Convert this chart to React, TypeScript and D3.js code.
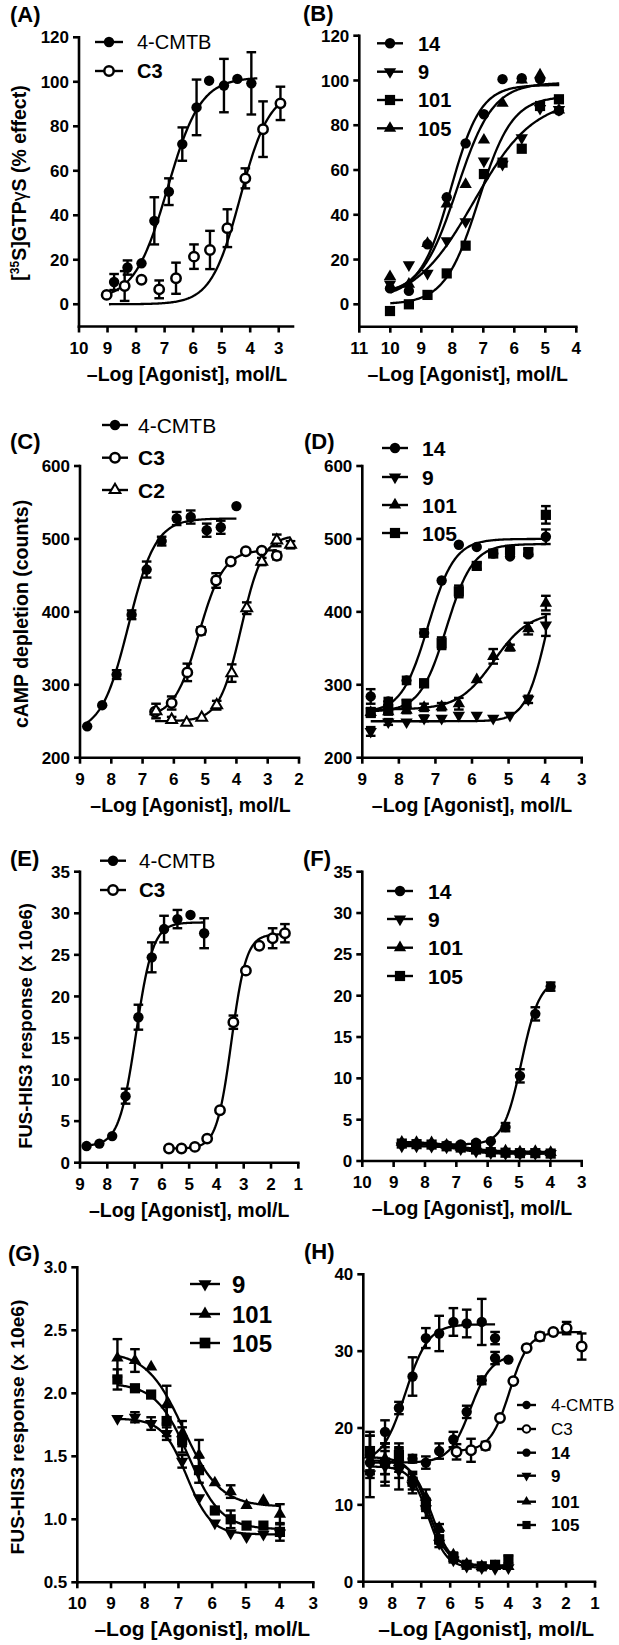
import React from 'react';
import * as d3 from 'd3';

const FONT = '"Liberation Sans", Arial, Helvetica, sans-serif';
const X_TITLE = '\u2013Log [Agonist], mol/L';

// ---------------- Panel A : [35S]GTPgS ----------------
const aX_CMTB = [8.77, 8.30, 7.81, 7.36, 6.85, 6.38, 5.88, 5.44, 4.92, 4.45, 3.96];
const aY_CMTB = [10.0, 16.5, 18.4, 37.5, 50.6, 72.0, 88.5, 100.5, 98.3, 101.3, 99.3];
const aE_CMTB = [3.6, 3.2, 0, 10.6, 6.0, 7.5, 12.5, 0, 12.0, 0, 14.0];
const aFit_CMTB = [2, 102, 6.9, 0.75, 8.9, 3.75];
const aX_C3 = [9.03, 8.40, 7.81, 7.19, 6.60, 5.97, 5.41, 4.80, 4.17, 3.55, 2.94];
const aY_C3 = [4.2, 8.2, 11.0, 6.7, 11.7, 21.4, 24.4, 34.2, 56.6, 78.7, 90.3];
const aE_C3 = [0, 6.7, 0, 4.0, 7.0, 5.5, 8.6, 8.5, 4.5, 12.5, 7.5];
const aFit_C3 = [0, 96, 4.35, 0.85, 8.95, 2.94];

// ---------------- Panel B ----------------
const bX = [10.01, 9.40, 8.80, 8.18, 7.57, 6.98, 6.38, 5.76, 5.17, 4.56];
const bY_14 = [7.1, 6.0, 26.8, 47.8, 71.9, 84.9, 100.6, 101.0, 100.6, 86.5];
const bY_9 = [9.0, 17.6, 13.8, 28.4, 36.9, 64.0, 62.5, 74.4, 87.5, 87.0];
const bY_101 = [-3.0, 0.0, 4.2, 13.8, 26.2, 58.2, 63.3, 69.5, 88.6, 91.6];
const bY_105 = [12.4, 9.0, 27.2, 44.8, 53.6, 73.4, 89.8, 100.2, 102.5, 86.8];
const bFit_14 = [5, 98, 8.05, 0.9, 10.0, 4.55];
const bFit_9 = [0, 92, 7.3, 0.45, 10.0, 4.55];
const bFit_101 = [0, 93, 7.15, 0.8, 10.0, 4.55];
const bFit_105 = [4, 99, 7.85, 0.75, 10.0, 4.55];

// ---------------- Panel C : cAMP ----------------
const cX_CMTB = [8.77, 8.29, 7.83, 7.35, 6.87, 6.39, 5.91, 5.46, 4.95, 4.50, 4.00];
const cY_CMTB = [243, 272, 314, 396, 458, 497, 528, 530, 512, 516, 545];
const cE_CMTB = [0, 0, 6, 6, 11, 6, 9, 9, 9, 9, 0];
const cFit_CMTB = [235, 528, 7.45, 1.0, 8.77, 4.0];
const cX_C3 = [6.60, 6.07, 5.57, 5.13, 4.65, 4.18, 3.70, 3.19, 2.71];
const cY_C3 = [263, 275, 317, 374, 443, 469, 483, 484, 477];
const cE_C3 = [0, 9, 12, 5, 10, 0, 0, 0, 5];
const cFit_C3 = [255, 485, 5.2, 1.1, 6.6, 2.71];
const cX_C2 = [6.57, 6.07, 5.59, 5.11, 4.63, 4.15, 3.67, 3.19, 2.71, 2.27];
const cY_C2 = [264, 252, 248, 255, 272, 316, 405, 469, 498, 492];
const cE_C2 = [10, 4, 0, 0, 6, 12, 8, 5, 8, 5];
const cFit_C2 = [250, 505, 3.85, 1.25, 6.6, 2.27];

// ---------------- Panel D ----------------
const dX = [8.77, 8.29, 7.79, 7.31, 6.83, 6.36, 5.87, 5.42, 4.96, 4.46, 3.98];
const dY_14 = [284, 277, 306, 371, 443, 492, 489, 480, 476, 479, 503];
const dE_14 = [10, 5, 5, 5, 0, 0, 0, 0, 0, 0, 10];
const dY_9 = [236, 249, 249, 254, 254, 258, 258, 254, 258, 280, 382];
const dE_9 = [6, 4, 0, 4, 0, 0, 0, 0, 0, 5, 15];
const dY_101 = [262, 263, 265, 269, 270, 274, 307, 339, 351, 377, 412];
const dE_101 = [6, 4, 4, 5, 5, 8, 0, 10, 4, 8, 10];
const dY_105 = [262, 267, 274, 302, 357, 428, 463, 480, 485, 482, 533];
const dE_105 = [6, 6, 5, 5, 8, 8, 4, 4, 4, 4, 12];
const dFit_14 = [262, 500, 7.2, 1.2, 8.77, 3.98];
const dFit_9 = [250, 500, 3.95, 1.5, 8.77, 3.98];
const dFit_101 = [266, 400, 5.4, 0.9, 8.77, 3.98];
const dFit_105 = [263, 493, 6.7, 1.2, 8.77, 3.98];

// ---------------- Panel E : FUS-HIS3 ----------------
const eX_CMTB = [8.76, 8.29, 7.82, 7.33, 6.86, 6.37, 5.92, 5.43, 4.95, 4.45];
const eY_CMTB = [2.0, 2.3, 3.2, 8.0, 17.5, 24.7, 28.1, 29.3, 29.8, 27.6];
const eE_CMTB = [0, 0, 0, 0.9, 1.5, 1.8, 1.6, 1.1, 0, 1.8];
const eFit_CMTB = [2.0, 28.9, 6.95, 1.4, 8.76, 4.45];
const eX_C3 = [5.74, 5.28, 4.79, 4.34, 3.87, 3.38, 2.92, 2.43, 1.94, 1.49];
const eY_C3 = [1.7, 1.7, 1.9, 2.9, 6.3, 16.9, 23.1, 26.1, 27.0, 27.6];
const eE_C3 = [0, 0, 0, 0, 0, 0.8, 0, 0, 1.2, 1.1];
const eFit_C3 = [1.7, 27.5, 3.45, 1.6, 5.74, 1.49];

// ---------------- Panel G (also used in F) ----------------
const gX = [8.81, 8.29, 7.81, 7.35, 6.89, 6.39, 5.92, 5.45, 4.98, 4.48, 3.99];
const gY_9 = [1.80, 1.81, 1.76, 1.68, 1.46, 1.17, 0.97, 0.89, 0.86, 0.88, 0.89];
const gE_9 = [0, 0.04, 0.05, 0.05, 0.05, 0, 0, 0, 0, 0, 0];
const gY_101 = [2.28, 2.26, 2.21, 1.91, 1.68, 1.51, 1.29, 1.22, 1.11, 1.15, 1.04];
const gE_101 = [0.15, 0.09, 0, 0.15, 0.1, 0.12, 0, 0.05, 0, 0, 0.08];
const gY_105 = [2.11, 2.04, 1.99, 1.78, 1.63, 1.39, 1.07, 1.00, 0.95, 0.95, 0.90];
const gE_105 = [0.08, 0, 0, 0.12, 0.1, 0.1, 0, 0.07, 0, 0, 0.07];
const gFit_9 = [1.80, 0.88, 6.75, 1.2, 8.81, 3.99];
const gFit_101 = [2.33, 1.10, 6.85, 0.8, 8.81, 3.99];
const gFit_105 = [2.08, 0.92, 6.7, 0.9, 8.81, 3.99];

// ---------------- Panel F ----------------
const fX = [8.74, 8.27, 7.79, 7.31, 6.86, 6.37, 5.90, 5.43, 4.97, 4.48, 3.99];
const fY_14 = [2.1, 2.1, 2.0, 1.9, 2.0, 2.2, 2.4, 4.1, 10.3, 17.8, 21.1];
const fE_14 = [0.2, 0.2, 0.2, 0.2, 0.2, 0.2, 0, 0.5, 0.8, 0.8, 0.5];
const fFit_14 = [2.0, 22.0, 4.92, 1.5, 8.74, 3.99];

// ---------------- Panel H ----------------
const hX = [8.77, 8.25, 7.77, 7.30, 6.84, 6.38, 5.89, 5.43, 4.91, 4.45, 3.99];
const hX_CMTB = [8.77, 8.25, 7.77, 7.30, 6.84, 6.38, 5.89, 5.43, 4.91, 4.45];
const hY_CMTB = [16.5, 19.5, 22.6, 26.7, 31.7, 32.3, 33.8, 33.6, 33.8, 31.7];
const hE_CMTB = [2.5, 1.5, 0.8, 2.5, 1.3, 2.3, 1.8, 1.8, 3.0, 0.8];
const hFit_CMTB = [15.5, 33.5, 7.55, 1.1, 8.77, 4.45];
const hX_C3 = [5.78, 5.28, 4.78, 4.28, 3.82, 3.36, 2.90, 2.44, 1.98, 1.46];
const hY_C3 = [16.9, 17.1, 17.7, 21.3, 26.1, 30.4, 31.9, 32.5, 33.0, 30.6];
const hE_C3 = [1.0, 1.5, 0.5, 0, 0, 0, 0.5, 0, 0.8, 1.7];
const hFit_C3 = [17, 32.5, 3.95, 1.3, 5.78, 1.46];
const hY_14 = [15.5, 15.5, 15.8, 16.0, 15.5, 17.0, 18.5, 22.1, 26.2, 29.1, 28.9];
const hE_14 = [2.0, 1.5, 1.5, 0.5, 0.8, 1.0, 1.0, 0.8, 0.5, 0.8, 0];
const hFit_14 = [15.5, 29.5, 5.3, 1.2, 8.77, 3.99];
const hY_9 = [14.0, 15.0, 14.5, 12.5, 9.5, 5.0, 2.8, 2.0, 1.8, 1.7, 1.8];
const hE_9 = [3.0, 2.5, 2.5, 1.0, 1.2, 0.5, 0.3, 0, 0, 0, 0];
const hY_101 = [16.5, 16.0, 15.5, 13.5, 11.0, 7.0, 3.5, 2.3, 2.0, 2.0, 2.0];
const hE_101 = [2.5, 2.0, 2.0, 0.8, 1.0, 0.5, 0.3, 0, 0, 0, 0];
const hY_105 = [17.0, 15.5, 16.5, 13.0, 10.0, 5.5, 3.2, 2.2, 2.0, 2.2, 2.9];
const hE_105 = [2.5, 2.5, 1.5, 1.0, 0.8, 0.5, 0.3, 0, 0, 0, 0.5];
const hFit_9 = [15.0, 1.8, 6.75, 1.4, 8.77, 3.99];
const hFit_101 = [15.8, 2.0, 6.65, 1.3, 8.77, 3.99];
const hFit_105 = [16.2, 2.1, 6.75, 1.3, 8.77, 3.99];

// ---------------- Axis ticks ----------------
const ticksA_x = [10, 9, 8, 7, 6, 5, 4, 3];
const ticksB_x = [11, 10, 9, 8, 7, 6, 5, 4];
const ticksAB_y = [0, 20, 40, 60, 80, 100, 120];
const ticksC_x = [9, 8, 7, 6, 5, 4, 3, 2];
const ticksD_x = [9, 8, 7, 6, 5, 4, 3];
const ticksCD_y = [200, 300, 400, 500, 600];
const ticksE_x = [9, 8, 7, 6, 5, 4, 3, 2, 1];
const ticksF_x = [10, 9, 8, 7, 6, 5, 4, 3];
const ticksEF_y = [0, 5, 10, 15, 20, 25, 30, 35];
const ticksG_x = [10, 9, 8, 7, 6, 5, 4, 3];
const ticksG_y = [0.5, 1.0, 1.5, 2.0, 2.5, 3.0];
const ticksH_x = [9, 8, 7, 6, 5, 4, 3, 2, 1];
const ticksH_y = [0, 10, 20, 30, 40];

type Shape = 'dot' | 'open' | 'square' | 'up' | 'down' | 'openUp';
interface Series { shape: Shape; xs: number[]; ys: number[]; es?: number[]; fit: number[] }
interface LegendItem { label: string; shape: Shape; bold: boolean }
interface Panel {
  tag: string; tagX: number; tagY: number;
  box: [number, number, number, number];
  xDom: [number, number]; xTicks: number[];
  yDom: [number, number]; yTicks: number[]; yFmt: (v: number) => string;
  yTitle?: React.ReactNode; yTitleX?: number; yTitleY?: number; yTitleSize?: number;
  xTitleSize: number; xTitleDx: number;
  series: Series[];
  legend: { x1: number; x2: number; tx: number; ys: number[]; size: number; k: number; items: LegendItem[] };
}

const hill = (p: number[], x: number) => p[0] + (p[1] - p[0]) / (1 + Math.pow(10, (x - p[2]) * p[3]));

function Marker({ shape, x, y, k = 1 }: { shape: Shape; x: number; y: number; k?: number }) {
  if (shape === 'dot') return <circle cx={x} cy={y} r={5.2 * k} fill="#000" />;
  if (shape === 'open') return <circle cx={x} cy={y} r={4.7 * k} fill="#fff" stroke="#000" strokeWidth={2.5 * k} />;
  if (shape === 'square') return <rect x={x - 5.1 * k} y={y - 5.1 * k} width={10.2 * k} height={10.2 * k} fill="#000" />;
  if (shape === 'openUp') {
    const d0 = d3.symbol().type(d3.symbolTriangle).size(50 * k * k)() as string;
    return <path d={d0} transform={`translate(${x},${y})`} fill="#fff" stroke="#000" strokeWidth={2 * k} />;
  }
  const d = d3.symbol().type(d3.symbolTriangle).size(66 * k * k)() as string;
  return <path d={d} transform={`translate(${x},${y})${shape === 'down' ? ' rotate(180)' : ''}`} fill="#000" />;
}

const fmtInt = (v: number) => d3.format('d')(v);
const fmt1 = (v: number) => d3.format('.1f')(v);

const panels: Panel[] = [
  {
    tag: '(A)', tagX: 10, tagY: 22, box: [79, 293, 37.3, 326.5],
    xDom: [10, 2.5], xTicks: ticksA_x, yDom: [-10, 120], yTicks: ticksAB_y, yFmt: fmtInt,
    yTitle: (<>
      <tspan>[</tspan><tspan baselineShift="super" fontSize="12">35</tspan><tspan>S]GTP</tspan>
      <tspan fontWeight="normal">{'\u03B3'}</tspan><tspan>S (% effect)</tspan>
    </>), yTitleX: 26, yTitleY: 183, yTitleSize: 19.5,
    xTitleSize: 19.5, xTitleDx: 1,
    series: [
      { shape: 'dot', xs: aX_CMTB, ys: aY_CMTB, es: aE_CMTB, fit: aFit_CMTB },
      { shape: 'open', xs: aX_C3, ys: aY_C3, es: aE_C3, fit: aFit_C3 },
    ],
    legend: { x1: 95, x2: 123, tx: 137, ys: [42, 71], size: 20, k: 1.0, items: [
      { label: '4-CMTB', shape: 'dot', bold: false }, { label: 'C3', shape: 'open', bold: true }] },
  },
  {
    tag: '(B)', tagX: 303, tagY: 21, box: [359.3, 576.3, 35.7, 326.7],
    xDom: [11, 4], xTicks: ticksB_x, yDom: [-10, 120], yTicks: ticksAB_y, yFmt: fmtInt,
    xTitleSize: 19.5, xTitleDx: 0,
    series: [
      { shape: 'dot', xs: bX, ys: bY_14, fit: bFit_14 },
      { shape: 'down', xs: bX, ys: bY_9, fit: bFit_9 },
      { shape: 'square', xs: bX, ys: bY_101, fit: bFit_101 },
      { shape: 'up', xs: bX, ys: bY_105, fit: bFit_105 },
    ],
    legend: { x1: 377, x2: 403, tx: 418, ys: [43.3, 71.7, 100, 128.3], size: 20, k: 1.0, items: [
      { label: '14', shape: 'dot', bold: true }, { label: '9', shape: 'down', bold: true },
      { label: '101', shape: 'square', bold: true }, { label: '105', shape: 'up', bold: true }] },
  },
  {
    tag: '(C)', tagX: 10, tagY: 449, box: [80, 299, 466, 757.7],
    xDom: [9, 2], xTicks: ticksC_x, yDom: [200, 600], yTicks: ticksCD_y, yFmt: fmtInt,
    yTitle: 'cAMP depletion (counts)', yTitleX: 28, yTitleY: 614, yTitleSize: 19.5,
    xTitleSize: 19.5, xTitleDx: 1,
    series: [
      { shape: 'dot', xs: cX_CMTB, ys: cY_CMTB, es: cE_CMTB, fit: cFit_CMTB },
      { shape: 'open', xs: cX_C3, ys: cY_C3, es: cE_C3, fit: cFit_C3 },
      { shape: 'openUp', xs: cX_C2, ys: cY_C2, es: cE_C2, fit: cFit_C2 },
    ],
    legend: { x1: 102, x2: 128, tx: 138, ys: [425, 457.7, 490], size: 21, k: 1.0, items: [
      { label: '4-CMTB', shape: 'dot', bold: false }, { label: 'C3', shape: 'open', bold: true },
      { label: 'C2', shape: 'openUp', bold: true }] },
  },
  {
    tag: '(D)', tagX: 304, tagY: 449, box: [362.3, 581.7, 466, 757.7],
    xDom: [9, 3], xTicks: ticksD_x, yDom: [200, 600], yTicks: ticksCD_y, yFmt: fmtInt,
    xTitleSize: 19.5, xTitleDx: 0,
    series: [
      { shape: 'dot', xs: dX, ys: dY_14, es: dE_14, fit: dFit_14 },
      { shape: 'down', xs: dX, ys: dY_9, es: dE_9, fit: dFit_9 },
      { shape: 'up', xs: dX, ys: dY_101, es: dE_101, fit: dFit_101 },
      { shape: 'square', xs: dX, ys: dY_105, es: dE_105, fit: dFit_105 },
    ],
    legend: { x1: 382, x2: 408, tx: 422, ys: [448, 477, 505, 533], size: 21, k: 1.0, items: [
      { label: '14', shape: 'dot', bold: true }, { label: '9', shape: 'down', bold: true },
      { label: '101', shape: 'up', bold: true }, { label: '105', shape: 'square', bold: true }] },
  },
  {
    tag: '(E)', tagX: 10, tagY: 866, box: [80, 298.3, 871.7, 1162.7],
    xDom: [9, 1], xTicks: ticksE_x, yDom: [0, 35], yTicks: ticksEF_y, yFmt: fmtInt,
    yTitle: 'FUS-HIS3 response (x 10e6)', yTitleX: 31.5, yTitleY: 1026, yTitleSize: 18.5,
    xTitleSize: 19.5, xTitleDx: 0,
    series: [
      { shape: 'dot', xs: eX_CMTB, ys: eY_CMTB, es: eE_CMTB, fit: eFit_CMTB },
      { shape: 'open', xs: eX_C3, ys: eY_C3, es: eE_C3, fit: eFit_C3 },
    ],
    legend: { x1: 100, x2: 126, tx: 139, ys: [860.7, 890], size: 20.5, k: 1.0, items: [
      { label: '4-CMTB', shape: 'dot', bold: false }, { label: 'C3', shape: 'open', bold: true }] },
  },
  {
    tag: '(F)', tagX: 303, tagY: 866, box: [362.3, 581.7, 871.7, 1161],
    xDom: [10, 3], xTicks: ticksF_x, yDom: [0, 35], yTicks: ticksEF_y, yFmt: fmtInt,
    xTitleSize: 19.5, xTitleDx: 0,
    series: [
      { shape: 'down', xs: fX, ys: gY_9, fit: gFit_9 },
      { shape: 'up', xs: fX, ys: gY_101, fit: gFit_101 },
      { shape: 'square', xs: fX, ys: gY_105, fit: gFit_105 },
      { shape: 'dot', xs: fX, ys: fY_14, es: fE_14, fit: fFit_14 },
    ],
    legend: { x1: 387, x2: 413, tx: 428, ys: [891, 919, 947.7, 976], size: 21, k: 1.0, items: [
      { label: '14', shape: 'dot', bold: true }, { label: '9', shape: 'down', bold: true },
      { label: '101', shape: 'up', bold: true }, { label: '105', shape: 'square', bold: true }] },
  },
  {
    tag: '(G)', tagX: 8, tagY: 1261, box: [77.3, 313.3, 1267.3, 1582.3],
    xDom: [10, 3], xTicks: ticksG_x, yDom: [0.5, 3.0], yTicks: ticksG_y, yFmt: fmt1,
    yTitle: 'FUS-HIS3 response (x 10e6)', yTitleX: 23.5, yTitleY: 1427, yTitleSize: 19.2,
    xTitleSize: 21, xTitleDx: 7,
    series: [
      { shape: 'down', xs: gX, ys: gY_9, es: gE_9, fit: gFit_9 },
      { shape: 'up', xs: gX, ys: gY_101, es: gE_101, fit: gFit_101 },
      { shape: 'square', xs: gX, ys: gY_105, es: gE_105, fit: gFit_105 },
    ],
    legend: { x1: 190, x2: 220, tx: 232, ys: [1284, 1314, 1343], size: 24, k: 1.05, items: [
      { label: '9', shape: 'down', bold: true }, { label: '101', shape: 'up', bold: true },
      { label: '105', shape: 'square', bold: true }] },
  },
  {
    tag: '(H)', tagX: 304, tagY: 1259, box: [363.3, 595, 1274.3, 1581.7],
    xDom: [9, 1], xTicks: ticksH_x, yDom: [0, 40], yTicks: ticksH_y, yFmt: fmtInt,
    xTitleSize: 21, xTitleDx: 7,
    series: [
      { shape: 'down', xs: hX, ys: hY_9, es: hE_9, fit: hFit_9 },
      { shape: 'up', xs: hX, ys: hY_101, es: hE_101, fit: hFit_101 },
      { shape: 'square', xs: hX, ys: hY_105, es: hE_105, fit: hFit_105 },
      { shape: 'dot', xs: hX, ys: hY_14, es: hE_14, fit: hFit_14 },
      { shape: 'open', xs: hX_C3, ys: hY_C3, es: hE_C3, fit: hFit_C3 },
      { shape: 'dot', xs: hX_CMTB, ys: hY_CMTB, es: hE_CMTB, fit: hFit_CMTB },
    ],
    legend: { x1: 517, x2: 536, tx: 551, ys: [1405, 1429, 1452.7, 1475.7, 1501.7, 1525], size: 17, k: 0.8, items: [
      { label: '4-CMTB', shape: 'dot', bold: false }, { label: 'C3', shape: 'open', bold: false },
      { label: '14', shape: 'dot', bold: true }, { label: '9', shape: 'down', bold: true },
      { label: '101', shape: 'up', bold: true }, { label: '105', shape: 'square', bold: true }] },
  },
];

function PanelView({ p }: { p: Panel }) {
  const [l, r, t, b] = p.box;
  const x = d3.scaleLinear().domain(p.xDom).range([l, r]);
  const y = d3.scaleLinear().domain(p.yDom).range([b, t]);
  const line = d3.line<[number, number]>().x(d => x(d[0])).y(d => y(d[1]));
  const AX = 2.6;
  return (
    <g>
      <text x={p.tagX} y={p.tagY} fontSize={22} fontWeight="bold">{p.tag}</text>
      {p.series.map((s, i) => {
        const [, , , , x0, x1] = s.fit;
        const pts = d3.range(0, 161).map(j => {
          const xv = x0 + (x1 - x0) * j / 160;
          return [xv, hill(s.fit, xv)] as [number, number];
        });
        return <path key={'c' + i} d={line(pts) as string} fill="none" stroke="#000" strokeWidth={2.3} />;
      })}
      {p.series.map((s, i) => (
        <g key={'e' + i}>
          {s.xs.map((xv, j) => {
            const e = s.es ? s.es[j] : 0;
            if (!e) return null;
            const cx = x(xv), y1 = y(s.ys[j] - e), y2 = y(s.ys[j] + e);
            return (
              <g key={j} stroke="#000" strokeWidth={2.4}>
                <line x1={cx} x2={cx} y1={y1} y2={y2} />
                <line x1={cx - 4.8} x2={cx + 4.8} y1={y1} y2={y1} />
                <line x1={cx - 4.8} x2={cx + 4.8} y1={y2} y2={y2} />
              </g>
            );
          })}
        </g>
      ))}
      {p.series.map((s, i) => (
        <g key={'m' + i}>
          {s.xs.map((xv, j) => <Marker key={j} shape={s.shape} x={x(xv)} y={y(s.ys[j])} />)}
        </g>
      ))}
      <g stroke="#000" strokeWidth={AX} strokeLinecap="square">
        <line x1={l} x2={l} y1={y(p.yDom[1])} y2={b} />
        <line x1={l} x2={r} y1={b} y2={b} />
        {p.yTicks.map(v => <line key={'yt' + v} x1={l - 6} x2={l} y1={y(v)} y2={y(v)} strokeLinecap="butt" />)}
        {p.xTicks.map(v => <line key={'xt' + v} x1={x(v)} x2={x(v)} y1={b} y2={b + 6} strokeLinecap="butt" />)}
      </g>
      <g fontSize={17} fontWeight="bold">
        {p.yTicks.map(v => (
          <text key={'yl' + v} x={l - 10} y={y(v)} dy="0.36em" textAnchor="end">{p.yFmt(v)}</text>
        ))}
        {p.xTicks.map(v => (
          <text key={'xl' + v} x={x(v)} y={b + 27} textAnchor="middle">{fmtInt(v)}</text>
        ))}
      </g>
      <text x={(l + r) / 2 + p.xTitleDx} y={b + 54} textAnchor="middle" fontSize={p.xTitleSize} fontWeight="bold">{X_TITLE}</text>
      {p.yTitle && (
        <text transform={`translate(${p.yTitleX},${p.yTitleY}) rotate(-90)`} textAnchor="middle"
          fontSize={p.yTitleSize} fontWeight="bold">{p.yTitle}</text>
      )}
      <g>
        {p.legend.items.map((it, i) => {
          const ly = p.legend.ys[i];
          return (
            <g key={'lg' + i}>
              <line x1={p.legend.x1} x2={p.legend.x2} y1={ly} y2={ly} stroke="#000" strokeWidth={2.4} />
              <Marker shape={it.shape} x={(p.legend.x1 + p.legend.x2) / 2} y={ly} k={p.legend.k} />
              <text x={p.legend.tx} y={ly} dy="0.36em" fontSize={p.legend.size}
                fontWeight={it.bold ? 'bold' : 'normal'}>{it.label}</text>
            </g>
          );
        })}
      </g>
    </g>
  );
}

export default function App() {
  return (
    <svg width={619} height={1645} viewBox="0 0 619 1645"
      style={{ position: 'absolute', left: 0, top: 0, background: '#fff' }}
      fontFamily={FONT} fill="#000">
      <rect x={0} y={0} width={619} height={1645} fill="#fff" />
      {panels.map(p => <PanelView key={p.tag} p={p} />)}
    </svg>
  );
}
